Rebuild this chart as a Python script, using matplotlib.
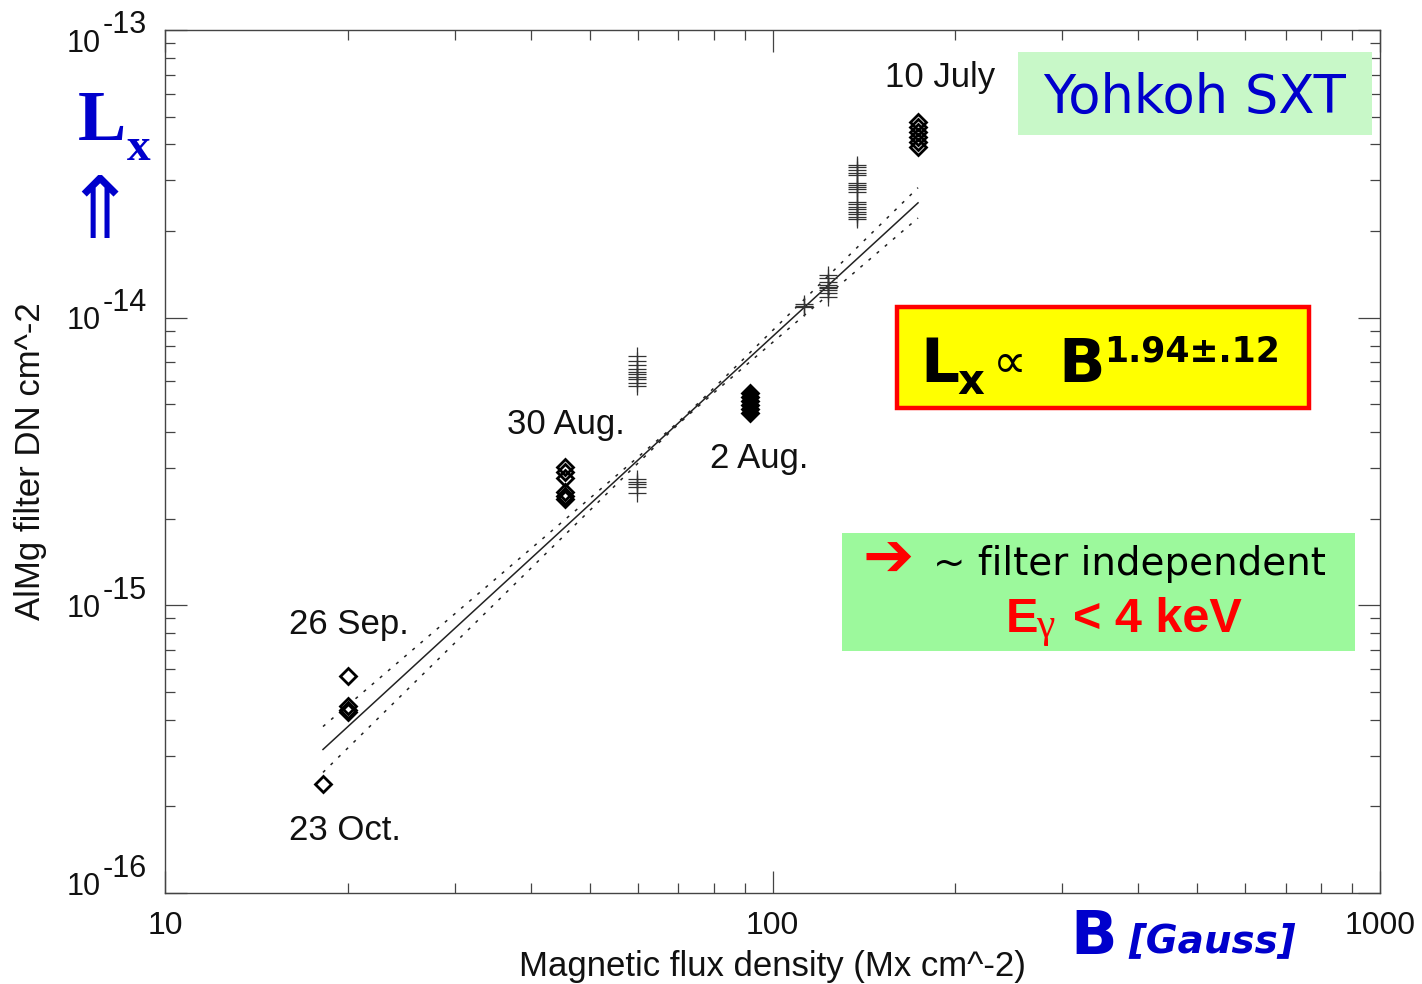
# -*- coding: utf-8 -*-
# plot.py  -  Yohkoh SXT: AlMg filter flux vs. magnetic flux density
import numpy as np
import matplotlib
matplotlib.use('Agg')
import matplotlib.pyplot as plt
from matplotlib.patches import Rectangle
from matplotlib.ticker import NullFormatter

plt.rcParams['font.family'] = ['Liberation Sans', 'DejaVu Sans']

# %% Data ---------------------------------------------------------------------

# diamonds, one list per observing date (B in G, Lx in DN cm^-2)
b_oct23 = [18.2]
lx_oct23 = [2.39e-16]

b_sep26 = [20.0, 20.0, 20.0, 20.0]
lx_sep26 = [5.69e-16, 4.47e-16, 4.33e-16, 4.26e-16]

b_aug30 = [45.5, 45.5, 45.5, 45.5, 45.5, 45.5]
lx_aug30 = [3.03e-15, 2.91e-15, 2.77e-15, 2.48e-15, 2.40e-15, 2.34e-15]

b_aug02 = [91.8, 91.8, 91.8, 91.8, 91.8, 91.8]
lx_aug02 = [5.47e-15, 5.30e-15, 5.13e-15, 4.97e-15, 4.82e-15, 4.66e-15]

b_jul10 = [173.6, 173.6, 173.6, 173.6, 173.6, 173.6]
lx_jul10 = [4.79e-14, 4.60e-14, 4.42e-14, 4.25e-14, 4.08e-14, 3.92e-14]

# plus signs (other measurements)
b_plus = [59.8] * 15 + [112.7] * 3 + [123.4] * 9 + [137.8] * 18
lx_plus = [7.36e-15, 7.07e-15, 6.85e-15, 6.63e-15, 6.47e-15, 6.37e-15,
           6.22e-15, 6.12e-15, 5.93e-15, 5.79e-15,
           2.75e-15, 2.68e-15, 2.64e-15, 2.58e-15, 2.46e-15,
           1.12e-14, 1.10e-14, 1.09e-14,
           1.407e-14, 1.374e-14, 1.331e-14, 1.299e-14, 1.279e-14,
           1.269e-14, 1.249e-14, 1.219e-14, 1.180e-14,
           3.395e-14, 3.341e-14, 3.262e-14, 3.184e-14, 3.133e-14,
           2.938e-14, 2.892e-14, 2.846e-14, 2.800e-14, 2.734e-14,
           2.524e-14, 2.484e-14, 2.425e-14, 2.386e-14, 2.330e-14,
           2.293e-14, 2.239e-14, 2.203e-14]

# power-law fit  log Lx = fit_norm + fit_index * log B
fit_norm = -17.9456
fit_index = 1.94
fit_brange = (18.2, 173.6)
band_sigma = 0.135     # slope uncertainty of the band
band_pivot = 1.85      # log B where band is narrowest
band_floor = 0.03

# labels next to the groups (text, B, Lx)
date_labels = ['10 July', '30 Aug.', '2 Aug.', '26 Sep.', '23 Oct.']
date_b = [153.0, 36.6, 78.9, 16.0, 16.0]
date_lx = [6.34e-14, 3.94e-15, 3.0e-15, 7.95e-16, 1.53e-16]

x_ticks = [10, 100, 1000]
y_exps = [-13, -14, -15, -16]

# %% Figure -------------------------------------------------------------------

W, H = 1422, 984
fig = plt.figure(figsize=(W / 100, H / 100), dpi=100)
ax = fig.add_axes([165 / W, 1 - 893 / H, 1215 / W, 863 / H])


def ftext(x, y, s, **kw):
    # text placed in figure pixel coordinates (origin top-left)
    return fig.text(x / W, 1 - y / H, s, **kw)


def frect(x0, y0, x1, y1, **kw):
    r = Rectangle((x0 / W, 1 - y1 / H), (x1 - x0) / W, (y1 - y0) / H,
                  transform=fig.transFigure, **kw)
    fig.add_artist(r)
    return r


ax.set_xscale('log')
ax.set_yscale('log')
ax.set_xlim(10, 1000)
ax.set_ylim(1e-16, 1e-13)

# fit and confidence band
logb = np.linspace(np.log10(fit_brange[0]), np.log10(fit_brange[1]), 200)
logl = fit_norm + fit_index * logb
dl = band_sigma * np.sqrt(band_floor**2 + (logb - band_pivot)**2)
ax.plot(10**logb, 10**logl, color='#222222', lw=1.1)
ax.plot(10**logb, 10**(logl + dl), color='#222222', lw=1.1, ls=(0, (2, 5)))
ax.plot(10**logb, 10**(logl - dl), color='#222222', lw=1.1, ls=(0, (2, 5)))

# measurements
ax.plot(b_plus, lx_plus, ls='none', marker='+', ms=13, mew=0.9,
        color='#333333')
for bb, ll in [(b_oct23, lx_oct23), (b_sep26, lx_sep26),
               (b_aug30, lx_aug30), (b_jul10, lx_jul10)]:
    ax.plot(bb, ll, ls='none', marker='D', ms=8.5, mfc='none', mec='k',
            mew=2)
ax.plot(b_aug02, lx_aug02, ls='none', marker='D', ms=8.5, mfc='k', mec='k',
        mew=2)

for s, bb, ll in zip(date_labels, date_b, date_lx):
    ax.text(bb, ll, s, fontsize=25, ha='left', va='baseline', color='#111111')

# axes, ticks
for sp in ax.spines.values():
    sp.set_color('#444444')
    sp.set_linewidth(1.0)
ax.tick_params(which='both', direction='in', top=True, right=True,
               color='#444444', width=0.9)
ax.tick_params(which='major', length=16)
ax.tick_params(which='minor', length=7)
ax.set_xticks(x_ticks, [str(t) for t in x_ticks])
ax.xaxis.set_minor_formatter(NullFormatter())
ax.tick_params(axis='x', which='major', labelsize=23, pad=13,
               labelcolor='#111111')
ax.set_yticks([10.0**e for e in y_exps], ['' for e in y_exps])
ax.yaxis.set_minor_formatter(NullFormatter())

# y tick labels drawn as 10 + raised exponent (same size)
nudge = {-13: -7.0, -16: 7.0}
for e in y_exps:
    dy = nudge.get(e, 0.0)
    ax.annotate('10', xy=(0, 10.0**e), xycoords=('axes fraction', 'data'),
                xytext=(-46, -8.5 + dy), textcoords='offset points',
                ha='right', va='baseline', fontsize=22, color='#111111')
    ax.annotate(str(e), xy=(0, 10.0**e),
                xycoords=('axes fraction', 'data'),
                xytext=(-45, 4.5 + dy), textcoords='offset points',
                ha='left', va='baseline', fontsize=22, color='#111111')

ax.set_xlabel('Magnetic flux density (Mx cm^-2)', fontsize=25,
              color='#111111')
ax.xaxis.set_label_coords(0.5, -0.066)
ax.set_ylabel('AlMg filter DN cm^-2', fontsize=25, color='#111111',
              va='center')
ax.yaxis.set_label_coords(-0.111, 0.5)

# %% Overlays -----------------------------------------------------------------

blue = '#0000cc'

# L_x with arrow at top left
ftext(78, 140, 'L', fontsize=52, family='Liberation Serif', weight='bold',
      color=blue, ha='left', va='baseline')
ftext(127, 160, 'x', fontsize=34, family='Liberation Serif', weight='bold',
      color=blue, ha='left', va='baseline')
ftext(99, 214, '\u21d1', fontsize=62, family='DejaVu Sans', color=blue,
      ha='center', va='center')

# Yohkoh SXT box
frect(1018, 52, 1372, 135, facecolor='#c8f8c8', edgecolor='none')
ftext(1195, 113, 'Yohkoh SXT', fontsize=38, family='DejaVu Sans',
      color=blue, ha='center', va='baseline')

# power-law box
frect(897, 307, 1309, 408, facecolor='#ffff00', edgecolor='#ff0000', lw=3.2)
ftext(920, 382, 'L', fontsize=44, family='DejaVu Sans', weight='bold',
      color='k', ha='left', va='baseline')
ftext(957, 394, 'x', fontsize=30, family='DejaVu Sans', weight='bold',
      color='k', ha='left', va='baseline')
ftext(993, 365, '\u221d', fontsize=34, family='DejaVu Sans', color='k',
      ha='left', va='center')
ftext(1058, 382, 'B', fontsize=44, family='DejaVu Sans', weight='bold',
      color='k', ha='left', va='baseline')
ftext(1104, 362, '1.94\u00b1.12', fontsize=25, family='DejaVu Sans',
      weight='bold', color='k', ha='left', va='baseline')

# filter box
frect(842, 533, 1355, 651, facecolor='#9cf99c', edgecolor='none')
ftext(862, 560, '\u2794', fontsize=44, family='DejaVu Sans', color='#ff0000',
      ha='left', va='center')
ftext(933, 575, '~ filter independent', fontsize=28, family='DejaVu Sans',
      color='k', ha='left', va='baseline')
ftext(1006, 632, 'E', fontsize=35, weight='bold', color='#ff0000',
      ha='left', va='baseline')
ftext(1036, 637, '\u03b3', fontsize=30, family='Liberation Serif',
      color='#ff0000', ha='left', va='baseline')
ftext(1073, 632, '< 4 keV', fontsize=35, weight='bold', color='#ff0000',
      ha='left', va='baseline')

# B [Gauss]
ftext(1070, 954, 'B', fontsize=44, family='DejaVu Sans', weight='bold',
      color=blue, ha='left', va='baseline')
ftext(1128, 952, '[Gauss]', fontsize=28, family='DejaVu Sans',
      weight='bold', style='oblique', color=blue, ha='left', va='baseline')

fig.savefig('out.png', dpi=100)
